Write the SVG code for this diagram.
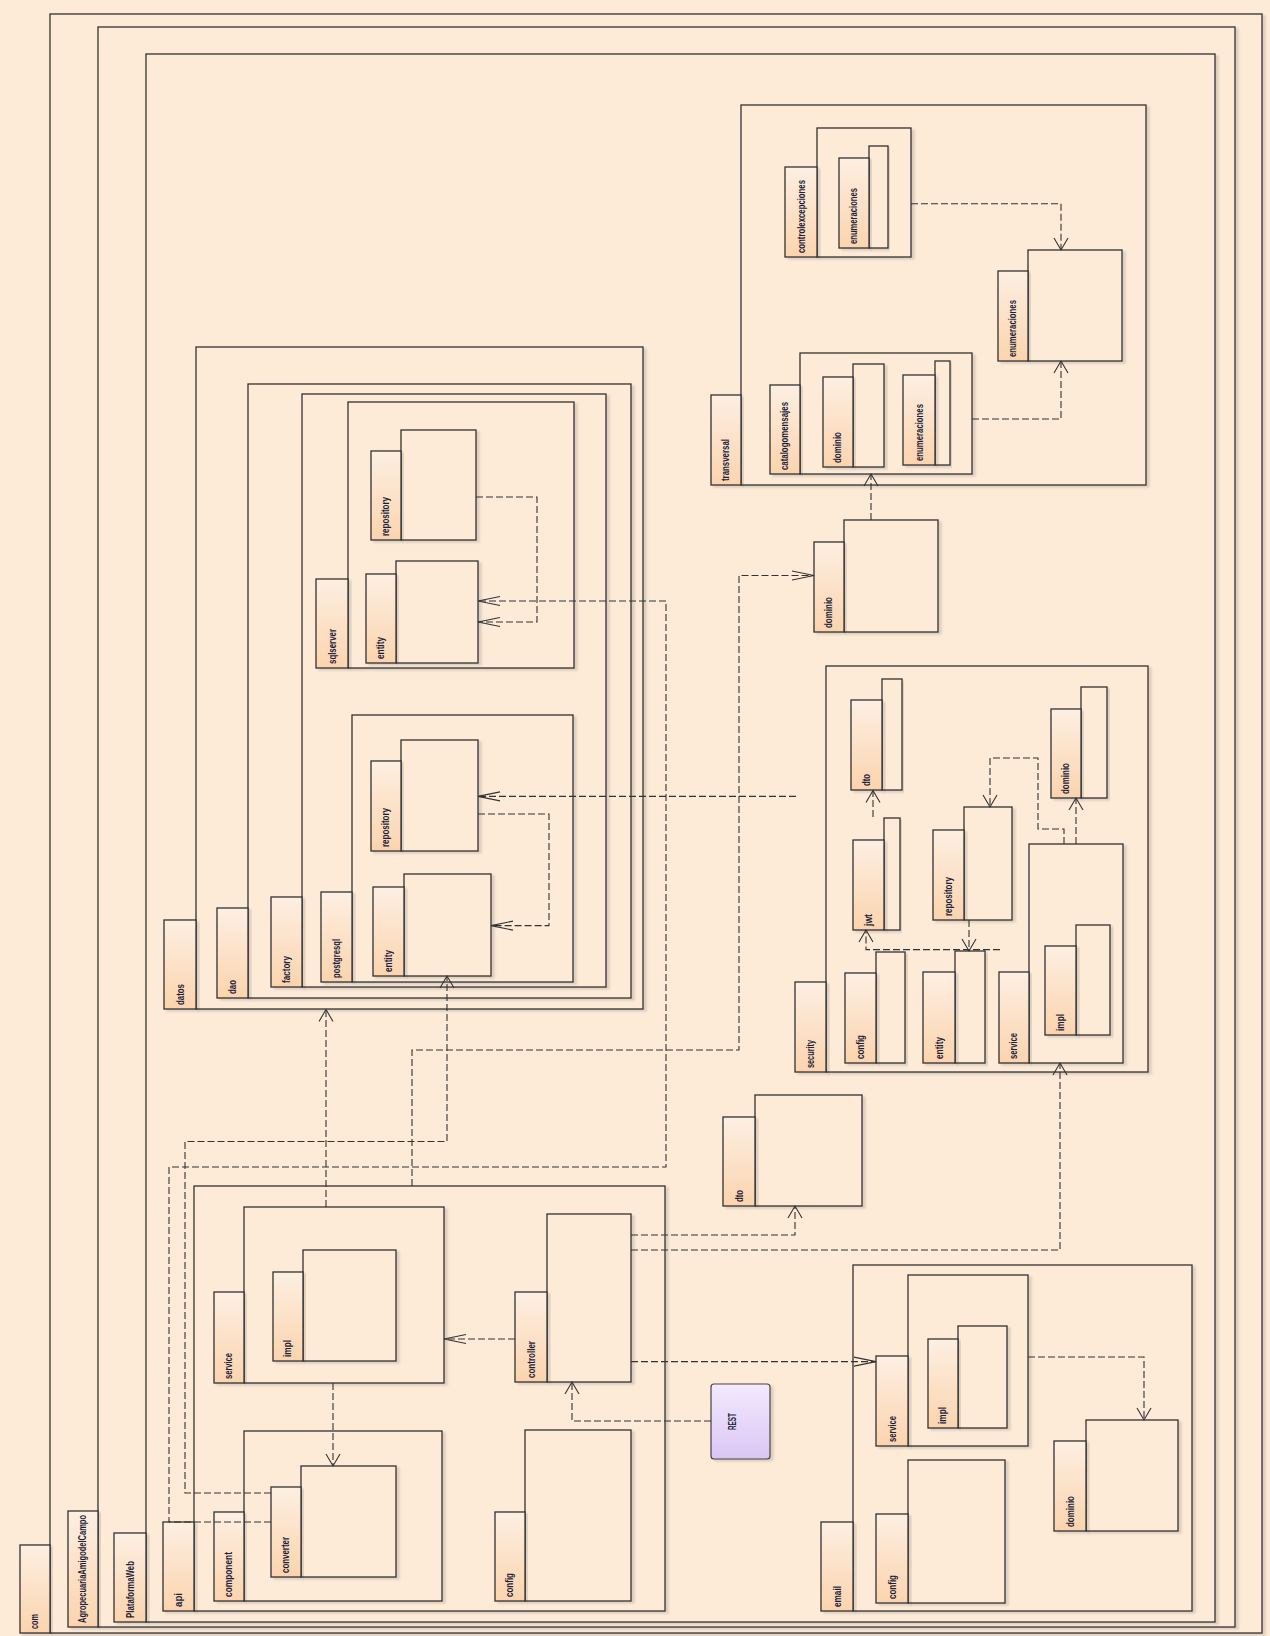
<svg xmlns="http://www.w3.org/2000/svg" width="1270" height="1636" viewBox="0 0 1270 1636">
<defs>
<linearGradient id="tg" x1="0" y1="0" x2="0" y2="1"><stop offset="0" stop-color="#fdefe2"/><stop offset="1" stop-color="#fbd4ae"/></linearGradient>
<linearGradient id="rg" x1="0" y1="0" x2="0" y2="1"><stop offset="0" stop-color="#f3eafd"/><stop offset="1" stop-color="#dac6f5"/></linearGradient>
<filter id="sh" x="-5%" y="-5%" width="115%" height="115%"><feDropShadow dx="3" dy="2" stdDeviation="0.8" flood-color="#000" flood-opacity="0.13"/></filter>
<marker id="aH" viewBox="-24 -6 26 12" refX="0" refY="0" markerWidth="26" markerHeight="12" markerUnits="userSpaceOnUse" orient="auto" overflow="visible"><path d="M-22,-4.5 L0,0 L-22,4.5" fill="none" stroke="#333" stroke-width="1.1"/></marker>
<marker id="aV" viewBox="-14 -10 16 20" refX="0" refY="0" markerWidth="16" markerHeight="20" markerUnits="userSpaceOnUse" orient="auto" overflow="visible"><path d="M-12,-7 L0,0 L-12,7" fill="none" stroke="#333" stroke-width="1.1"/></marker>
</defs>
<style>
.tab{fill:url(#tg);stroke:#333;stroke-width:1.3;filter:url(#sh)}
.body{fill:#fdebd8;stroke:#333;stroke-width:1.3;filter:url(#sh)}
.lbl{font-family:"Liberation Sans",Arial,sans-serif;font-size:10px;font-weight:bold;fill:#1e1e3c}
.dep{fill:none;stroke:#333;stroke-width:1.1;stroke-dasharray:7 3}
.h{marker-end:url(#aH)}
.v{marker-end:url(#aV)}
</style>
<rect width="1270" height="1636" fill="#fdebd8"/>

<g id="com"><rect class="body" x="50" y="14" width="1212" height="1619"/><rect class="tab" x="20" y="1545" width="30" height="88"/><text class="lbl" transform="translate(38,1629) rotate(-90)" textLength="15" lengthAdjust="spacingAndGlyphs">com</text></g>
<g id="agropecuaria"><rect class="body" x="98" y="27" width="1137" height="1600"/><rect class="tab" x="68" y="1511" width="30" height="116"/><text class="lbl" transform="translate(86,1623) rotate(-90)" textLength="108" lengthAdjust="spacingAndGlyphs">AgropecuariaAmigodelCampo</text></g>
<g id="plataformaweb"><rect class="body" x="146" y="54" width="1069" height="1568"/><rect class="tab" x="114" y="1533" width="32" height="89"/><text class="lbl" transform="translate(134,1618) rotate(-90)" textLength="57" lengthAdjust="spacingAndGlyphs">PlataformaWeb</text></g>

<g id="datos"><rect class="body" x="196" y="347" width="447" height="662"/><rect class="tab" x="164" y="920" width="32" height="89"/><text class="lbl" transform="translate(184,1005) rotate(-90)" textLength="21" lengthAdjust="spacingAndGlyphs">datos</text></g>
<g id="dao"><rect class="body" x="248" y="384" width="383" height="614"/><rect class="tab" x="217" y="908" width="31" height="90"/><text class="lbl" transform="translate(236,994) rotate(-90)" textLength="14" lengthAdjust="spacingAndGlyphs">dao</text></g>
<g id="factory"><rect class="body" x="302" y="394" width="304" height="593"/><rect class="tab" x="271" y="897" width="31" height="90"/><text class="lbl" transform="translate(290,983) rotate(-90)" textLength="27" lengthAdjust="spacingAndGlyphs">factory</text></g>
<g id="sqlserver"><rect class="body" x="348" y="402" width="226" height="266"/><rect class="tab" x="316" y="579" width="32" height="89"/><text class="lbl" transform="translate(336,664) rotate(-90)" textLength="35" lengthAdjust="spacingAndGlyphs">sqlserver</text></g>
<g id="sqlserver-repository"><rect class="body" x="401" y="430" width="75" height="110"/><rect class="tab" x="371" y="451" width="30" height="89"/><text class="lbl" transform="translate(389,536) rotate(-90)" textLength="39" lengthAdjust="spacingAndGlyphs">repository</text></g>
<g id="sqlserver-entity"><rect class="body" x="396" y="561" width="82" height="102"/><rect class="tab" x="366" y="574" width="30" height="89"/><text class="lbl" transform="translate(384,659) rotate(-90)" textLength="22" lengthAdjust="spacingAndGlyphs">entity</text></g>
<g id="postgresql"><rect class="body" x="352" y="715" width="221" height="267"/><rect class="tab" x="321" y="892" width="31" height="90"/><text class="lbl" transform="translate(340,978) rotate(-90)" textLength="39" lengthAdjust="spacingAndGlyphs">postgresql</text></g>
<g id="postgresql-repository"><rect class="body" x="401" y="740" width="77" height="111"/><rect class="tab" x="371" y="761" width="30" height="90"/><text class="lbl" transform="translate(389,847) rotate(-90)" textLength="39" lengthAdjust="spacingAndGlyphs">repository</text></g>
<g id="postgresql-entity"><rect class="body" x="404" y="874" width="87" height="102"/><rect class="tab" x="373" y="887" width="31" height="89"/><text class="lbl" transform="translate(392,972) rotate(-90)" textLength="22" lengthAdjust="spacingAndGlyphs">entity</text></g>

<g id="transversal"><rect class="body" x="741" y="105" width="405" height="380"/><rect class="tab" x="711" y="395" width="30" height="90"/><text class="lbl" transform="translate(729,481) rotate(-90)" textLength="42" lengthAdjust="spacingAndGlyphs">transversal</text></g>
<g id="controlexcepciones"><rect class="body" x="817" y="128" width="94" height="129"/><rect class="tab" x="785" y="167" width="32" height="90"/><text class="lbl" transform="translate(805,253) rotate(-90)" textLength="73" lengthAdjust="spacingAndGlyphs">controlexcepciones</text></g>
<g id="controlexcepciones-enumeraciones"><rect class="body" x="869" y="146" width="19" height="102"/><rect class="tab" x="839" y="158" width="30" height="90"/><text class="lbl" transform="translate(857,244) rotate(-90)" textLength="56" lengthAdjust="spacingAndGlyphs">enumeraciones</text></g>
<g id="catalogomensajes"><rect class="body" x="800" y="353" width="172" height="121"/><rect class="tab" x="770" y="385" width="30" height="89"/><text class="lbl" transform="translate(788,470) rotate(-90)" textLength="68" lengthAdjust="spacingAndGlyphs">catalogomensajes</text></g>
<g id="catalogomensajes-dominio"><rect class="body" x="853" y="364" width="31" height="103"/><rect class="tab" x="823" y="377" width="30" height="90"/><text class="lbl" transform="translate(841,463) rotate(-90)" textLength="31" lengthAdjust="spacingAndGlyphs">dominio</text></g>
<g id="catalogomensajes-enumeraciones"><rect class="body" x="935" y="361" width="15" height="104"/><rect class="tab" x="903" y="375" width="32" height="90"/><text class="lbl" transform="translate(923,461) rotate(-90)" textLength="57" lengthAdjust="spacingAndGlyphs">enumeraciones</text></g>
<g id="enumeraciones"><rect class="body" x="1028" y="250" width="94" height="111"/><rect class="tab" x="998" y="271" width="30" height="90"/><text class="lbl" transform="translate(1016,357) rotate(-90)" textLength="57" lengthAdjust="spacingAndGlyphs">enumeraciones</text></g>
<g id="dominio"><rect class="body" x="844" y="520" width="94" height="112"/><rect class="tab" x="814" y="542" width="30" height="90"/><text class="lbl" transform="translate(832,628) rotate(-90)" textLength="31" lengthAdjust="spacingAndGlyphs">dominio</text></g>

<g id="security"><rect class="body" x="826" y="666" width="322" height="406"/><rect class="tab" x="795" y="982" width="31" height="90"/><text class="lbl" transform="translate(814,1068) rotate(-90)" textLength="28" lengthAdjust="spacingAndGlyphs">security</text></g>
<g id="security-dto"><rect class="body" x="882" y="679" width="20" height="111"/><rect class="tab" x="851" y="700" width="31" height="90"/><text class="lbl" transform="translate(870,786) rotate(-90)" textLength="12" lengthAdjust="spacingAndGlyphs">dto</text></g>
<g id="security-jwt"><rect class="body" x="884" y="818" width="16" height="112"/><rect class="tab" x="853" y="840" width="31" height="90"/><text class="lbl" transform="translate(872,926) rotate(-90)" textLength="12" lengthAdjust="spacingAndGlyphs">jwt</text></g>
<g id="security-repository"><rect class="body" x="964" y="807" width="48" height="113"/><rect class="tab" x="933" y="830" width="31" height="90"/><text class="lbl" transform="translate(952,916) rotate(-90)" textLength="39" lengthAdjust="spacingAndGlyphs">repository</text></g>
<g id="security-dominio"><rect class="body" x="1081" y="687" width="26" height="111"/><rect class="tab" x="1051" y="709" width="30" height="89"/><text class="lbl" transform="translate(1069,794) rotate(-90)" textLength="31" lengthAdjust="spacingAndGlyphs">dominio</text></g>
<g id="security-config"><rect class="body" x="876" y="952" width="29" height="111"/><rect class="tab" x="845" y="973" width="31" height="90"/><text class="lbl" transform="translate(864,1059) rotate(-90)" textLength="24" lengthAdjust="spacingAndGlyphs">config</text></g>
<g id="security-entity"><rect class="body" x="955" y="951" width="30" height="112"/><rect class="tab" x="923" y="972" width="32" height="91"/><text class="lbl" transform="translate(943,1059) rotate(-90)" textLength="22" lengthAdjust="spacingAndGlyphs">entity</text></g>
<g id="security-service"><rect class="body" x="1029" y="844" width="94" height="219"/><rect class="tab" x="999" y="972" width="30" height="91"/><text class="lbl" transform="translate(1017,1059) rotate(-90)" textLength="26" lengthAdjust="spacingAndGlyphs">service</text></g>
<g id="security-service-impl"><rect class="body" x="1076" y="925" width="34" height="110"/><rect class="tab" x="1045" y="946" width="31" height="89"/><text class="lbl" transform="translate(1064,1031) rotate(-90)" textLength="17" lengthAdjust="spacingAndGlyphs">impl</text></g>

<g id="api"><rect class="body" x="194" y="1186" width="471" height="425"/><rect class="tab" x="163" y="1522" width="31" height="89"/><text class="lbl" transform="translate(182,1607) rotate(-90)" textLength="14" lengthAdjust="spacingAndGlyphs">api</text></g>
<g id="api-service"><rect class="body" x="244" y="1207" width="200" height="176"/><rect class="tab" x="214" y="1292" width="30" height="91"/><text class="lbl" transform="translate(232,1379) rotate(-90)" textLength="26" lengthAdjust="spacingAndGlyphs">service</text></g>
<g id="api-service-impl"><rect class="body" x="303" y="1250" width="93" height="111"/><rect class="tab" x="273" y="1272" width="30" height="89"/><text class="lbl" transform="translate(291,1357) rotate(-90)" textLength="17" lengthAdjust="spacingAndGlyphs">impl</text></g>
<g id="api-component"><rect class="body" x="244" y="1431" width="198" height="170"/><rect class="tab" x="214" y="1512" width="30" height="89"/><text class="lbl" transform="translate(232,1597) rotate(-90)" textLength="45" lengthAdjust="spacingAndGlyphs">component</text></g>
<g id="api-component-converter"><rect class="body" x="301" y="1466" width="95" height="111"/><rect class="tab" x="271" y="1487" width="30" height="90"/><text class="lbl" transform="translate(289,1573) rotate(-90)" textLength="36" lengthAdjust="spacingAndGlyphs">converter</text></g>
<g id="api-controller"><rect class="body" x="547" y="1214" width="84" height="168"/><rect class="tab" x="515" y="1292" width="32" height="90"/><text class="lbl" transform="translate(535,1378) rotate(-90)" textLength="37" lengthAdjust="spacingAndGlyphs">controller</text></g>
<g id="api-config"><rect class="body" x="525" y="1430" width="106" height="171"/><rect class="tab" x="495" y="1512" width="30" height="89"/><text class="lbl" transform="translate(513,1597) rotate(-90)" textLength="24" lengthAdjust="spacingAndGlyphs">config</text></g>
<g id="dto"><rect class="body" x="755" y="1095" width="107" height="111"/><rect class="tab" x="723" y="1117" width="32" height="89"/><text class="lbl" transform="translate(743,1202) rotate(-90)" textLength="12" lengthAdjust="spacingAndGlyphs">dto</text></g>
<g id="rest"><rect x="711" y="1384" width="59" height="75" rx="3" fill="url(#rg)" stroke="#444" stroke-width="1.2" filter="url(#sh)"/><text class="lbl" transform="translate(736,1430) rotate(-90)" textLength="17" lengthAdjust="spacingAndGlyphs">REST</text></g>

<g id="email"><rect class="body" x="853" y="1265" width="339" height="346"/><rect class="tab" x="821" y="1522" width="32" height="89"/><text class="lbl" transform="translate(841,1607) rotate(-90)" textLength="21" lengthAdjust="spacingAndGlyphs">email</text></g>
<g id="email-service"><rect class="body" x="908" y="1275" width="120" height="171"/><rect class="tab" x="876" y="1356" width="32" height="90"/><text class="lbl" transform="translate(896,1442) rotate(-90)" textLength="26" lengthAdjust="spacingAndGlyphs">service</text></g>
<g id="email-service-impl"><rect class="body" x="958" y="1326" width="49" height="102"/><rect class="tab" x="928" y="1339" width="30" height="89"/><text class="lbl" transform="translate(946,1424) rotate(-90)" textLength="17" lengthAdjust="spacingAndGlyphs">impl</text></g>
<g id="email-config"><rect class="body" x="908" y="1460" width="97" height="143"/><rect class="tab" x="876" y="1514" width="32" height="89"/><text class="lbl" transform="translate(896,1599) rotate(-90)" textLength="24" lengthAdjust="spacingAndGlyphs">config</text></g>
<g id="email-dominio"><rect class="body" x="1086" y="1420" width="92" height="111"/><rect class="tab" x="1054" y="1441" width="32" height="90"/><text class="lbl" transform="translate(1074,1527) rotate(-90)" textLength="31" lengthAdjust="spacingAndGlyphs">dominio</text></g>

<g id="connectors">
<path class="dep h" d="M476,497 H537 V622 H478"/>
<path class="dep h" d="M271,1522 H169 V1167 H666 V601 H478"/>
<path class="dep v" d="M271,1493 H185 V1141.5 H447 V976"/>
<path class="dep v" d="M326,1207 V1009.5"/>
<path class="dep h" d="M412,1186 V1050 H739 V575.5 H814"/>
<path class="dep h" d="M796,796.4 H478"/>
<path class="dep h" d="M478,814 H549 V925.6 H491"/>
<path class="dep v" d="M911,203.7 H1061 V250"/>
<path class="dep v" d="M972,419 H1061 V361"/>
<path class="dep v" d="M871,520 V474"/>
<path class="dep v" d="M873,817 V790.5"/>
<path class="dep v" d="M969,920 V951"/>
<path class="dep v" d="M1000,949.6 H866 V930"/>
<path class="dep v" d="M1076,844 V798"/>
<path class="dep v" d="M1064,844 V829 H1038 V758 H990 V807"/>
<path class="dep v" d="M333,1383 V1466"/>
<path class="dep h" d="M515,1339 H444"/>
<path class="dep v" d="M711,1421 H572 V1382"/>
<path class="dep v" d="M631,1235 H795 V1206"/>
<path class="dep v" d="M631,1250 H1060 V1063"/>
<path class="dep h" d="M631,1361.6 H876"/>
<path class="dep v" d="M1028,1357 H1144 V1420"/>
</g>
</svg>
